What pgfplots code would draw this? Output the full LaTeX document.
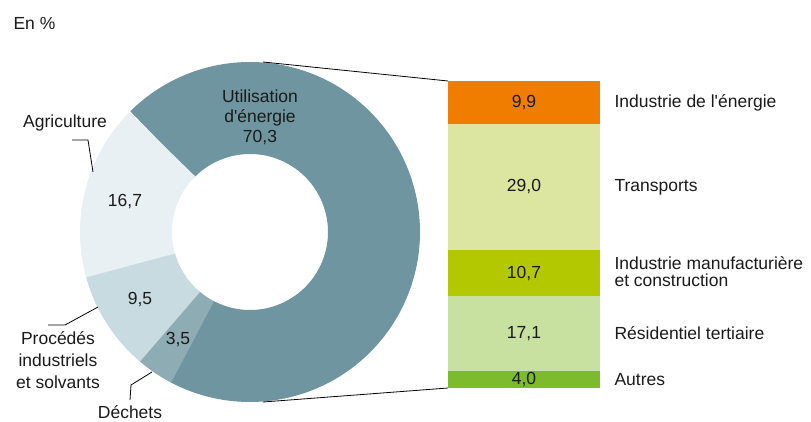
\documentclass[border=0pt]{standalone}
\usepackage{fontspec}
\setmainfont{Liberation Sans}
\usepackage{pgfplots}
\pgfplotsset{compat=1.18}
\definecolor{cUtil}{HTML}{6F96A0}
\definecolor{cAgri}{HTML}{E9F0F3}
\definecolor{cProc}{HTML}{C8DBE1}
\definecolor{cDech}{HTML}{8EACB4}
\definecolor{cEner}{HTML}{F07D00}
\definecolor{cTran}{HTML}{DDE6A0}
\definecolor{cManu}{HTML}{B4C800}
\definecolor{cResi}{HTML}{C8E0A0}
\definecolor{cAutr}{HTML}{7CBC2C}
\definecolor{txt}{HTML}{1A1A1A}
% donut shares (%)
\def\vUtil{70.3}\def\vDech{3.5}\def\vProc{9.5}\def\vAgri{16.7}
\pgfmathsetmacro{\aA}{135}
\pgfmathsetmacro{\aB}{\aA-3.6*\vUtil}
\pgfmathsetmacro{\aC}{\aB-3.6*\vDech}
\pgfmathsetmacro{\aD}{\aC-3.6*\vProc}
\pgfmathsetmacro{\aE}{\aD-3.6*\vAgri}
\pgfmathsetmacro{\aBo}{\aB+0.5}
\pgfmathsetmacro{\aCo}{\aC+0.5}
\pgfmathsetmacro{\aDo}{\aD+0.5}
\begin{document}
\begin{tikzpicture}[font=\fontsize{17.5}{20}\selectfont, text=txt]
\path[use as bounding box] (0,0) rectangle (811pt,421pt);
% ---------- donut and annotations (1 unit = 1pt)
\begin{axis}[at={(0,0)}, anchor=south west, scale only axis,
  width=811pt, height=421pt, xmin=0, xmax=811, ymin=0, ymax=421,
  enlargelimits=false, hide axis, clip=false]
\addplot[cUtil, line width=92pt, domain=\aB:\aA, samples=150] ({250+124*cos(x)},{189+124*sin(x)});
\addplot[cDech, line width=92pt, domain=\aC:\aBo, samples=20] ({250+124*cos(x)},{189+124*sin(x)});
\addplot[cProc, line width=92pt, domain=\aD:\aCo, samples=30] ({250+124*cos(x)},{189+124*sin(x)});
\addplot[cAgri, line width=92pt, domain=\aE:\aDo, samples=50] ({250+124*cos(x)},{189+124*sin(x)});
% connector lines
\addplot[black, line width=0.8pt] coordinates {(263,359) (448,340)};
\addplot[black, line width=0.8pt] coordinates {(263,19) (448,33)};
% leader lines
\addplot[black, line width=0.8pt] coordinates {(72,281) (88,281) (93,249)};
\addplot[black, line width=0.8pt] coordinates {(48,96) (65,96) (98,114)};
\addplot[black, line width=0.8pt] coordinates {(130,21) (131,36) (152,49)};
% texts
\node[anchor=west] at (axis cs:10,398) {En \%};
\node[align=center, font=\fontsize{17.5}{20}\selectfont] at (axis cs:260,304) {Utilisation\\d\textquotesingle énergie\\70,3};
\node at (axis cs:65,298) {Agriculture};
\node at (axis cs:125,219) {16,7};
\node at (axis cs:140,121) {9,5};
\node at (axis cs:178,81) {3,5};
\node[align=center, font=\fontsize{17.5}{22}\selectfont] at (axis cs:58,61) {Procédés\\industriels\\et solvants};
\node at (axis cs:130,9) {Déchets};
\end{axis}
% ---------- stacked bar
\begin{axis}[at={(0,0)}, anchor=south west, scale only axis,
  width=811pt, height=421pt, xmin=0, xmax=811, ymin=-7.6, ymax=89.353,
  enlargelimits=false, hide axis, clip=false,
  ybar stacked, bar width=152pt]
\addplot[fill=cAutr, draw=none] coordinates {(524,4.0)};
\addplot[fill=cResi, draw=none] coordinates {(524,17.1)};
\addplot[fill=cManu, draw=none] coordinates {(524,10.7)};
\addplot[fill=cTran, draw=none] coordinates {(524,29.0)};
\addplot[fill=cEner, draw=none] coordinates {(524,9.9)};
\end{axis}
% ---------- bar labels (same coordinate system as the bar)
\begin{axis}[at={(0,0)}, anchor=south west, scale only axis,
  width=811pt, height=421pt, xmin=0, xmax=811, ymin=-7.6, ymax=89.353,
  enlargelimits=false, hide axis, clip=false]
\addplot[draw=none] coordinates {(524,0)};
\node at (axis cs:524,2.0) {4,0};
\node at (axis cs:524,12.55) {17,1};
\node at (axis cs:524,26.45) {10,7};
\node at (axis cs:524,46.3) {29,0};
\node at (axis cs:524,65.75) {9,9};
\node[anchor=west] at (axis cs:611,2.0) {Autres};
\node[anchor=west] at (axis cs:611,12.55) {Résidentiel tertiaire};
\node[anchor=west, align=left, font=\fontsize{17.5}{17}\selectfont] at (axis cs:611,26.9) {Industrie manufacturière\\et construction};
\node[anchor=west] at (axis cs:611,46.3) {Transports};
\node[anchor=west] at (axis cs:611,65.75) {Industrie de l\textquotesingle énergie};
\end{axis}
\end{tikzpicture}
\end{document}
